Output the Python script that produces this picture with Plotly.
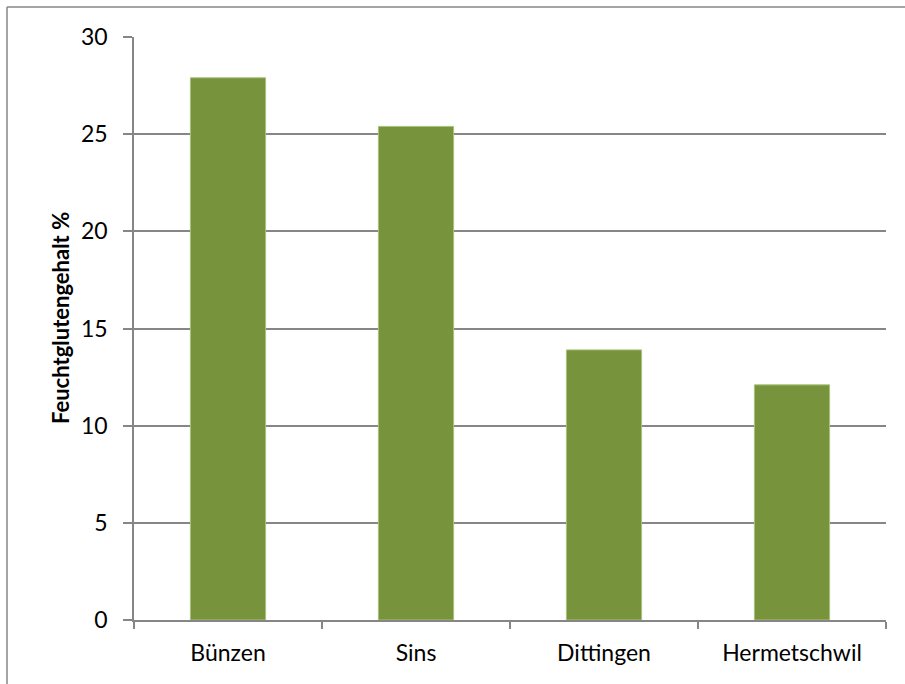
import plotly.graph_objects as go

# Feuchtglutengehalt nach Standort
standorte = ["Bünzen", "Sins", "Dittingen", "Hermetschwil"]
gluten = [27.9, 25.4, 13.9, 12.1]
y_ticks = [0, 5, 10, 15, 20, 25, 30]

W, H = 905, 684
L, R, T, B = 134, 19, 37, 64
grey = "#868686"
font = "Lato"

fig = go.Figure(
    go.Bar(
        x=standorte,
        y=gluten,
        width=0.4,
        marker=dict(color="#77933C", line=dict(color="#A9C27A", width=1)),
    )
)

plot_w = W - L - R
plot_h = H - T - B

def px_x(p):
    return (p - L) / plot_w

def px_y(p):
    return (H - B - p) / plot_h

fig.update_layout(
    width=W,
    height=H,
    margin=dict(l=L, r=R, t=T, b=B),
    paper_bgcolor="white",
    plot_bgcolor="white",
    showlegend=False,
    font=dict(family=font, size=23, color="black"),
    xaxis=dict(
        showline=True,
        linecolor=grey,
        linewidth=1.5,
        tickson="boundaries",
        ticks="outside",
        ticklen=7,
        tickcolor=grey,
        tickwidth=1.5,
        showgrid=False,
        ticklabelstandoff=12,
    ),
    yaxis=dict(
        range=[0, 30],
        tickvals=y_ticks,
        showline=True,
        linecolor=grey,
        linewidth=1.5,
        ticks="outside",
        ticklen=9,
        tickcolor=grey,
        tickwidth=1.5,
        showgrid=True,
        gridcolor=grey,
        gridwidth=1.5,
        zeroline=False,
        ticklabelstandoff=11,
    ),
    annotations=[
        dict(
            text="<b>Feuchtglutengehalt %</b>",
            textangle=-90,
            xref="paper",
            yref="paper",
            x=px_x(60),
            y=px_y(318),
            xanchor="center",
            yanchor="middle",
            showarrow=False,
            font=dict(family=font, size=22, color="black"),
        )
    ],
    shapes=[
        dict(type="line", xref="paper", yref="paper",
             x0=px_x(7), y0=px_y(7), x1=px_x(W + 5), y1=px_y(7),
             line=dict(color=grey, width=1.5)),
        dict(type="line", xref="paper", yref="paper",
             x0=px_x(7), y0=px_y(7), x1=px_x(7), y1=px_y(H + 5),
             line=dict(color=grey, width=1.5)),
    ],
)

fig.write_html("out.html")
